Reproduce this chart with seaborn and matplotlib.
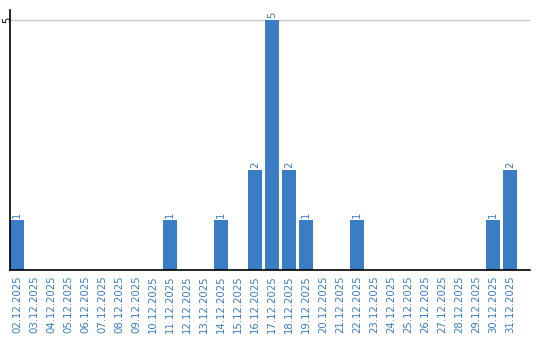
import matplotlib
matplotlib.use("Agg")
import matplotlib.pyplot as plt
import seaborn as sns
import pandas as pd

dates = ["02.12.2025", "03.12.2025", "04.12.2025", "05.12.2025", "06.12.2025",
         "07.12.2025", "08.12.2025", "09.12.2025", "10.12.2025", "11.12.2025",
         "12.12.2025", "13.12.2025", "14.12.2025", "15.12.2025", "16.12.2025",
         "17.12.2025", "18.12.2025", "19.12.2025", "20.12.2025", "21.12.2025",
         "22.12.2025", "23.12.2025", "24.12.2025", "25.12.2025", "26.12.2025",
         "27.12.2025", "28.12.2025", "29.12.2025", "30.12.2025", "31.12.2025"]
counts = [1, 0, 0, 0, 0, 0, 0, 0, 0, 1,
          0, 0, 1, 0, 2, 5, 2, 1, 0, 0,
          1, 0, 0, 0, 0, 0, 0, 0, 1, 2]

df = pd.DataFrame({"date": dates, "count": counts})

sns.set_style("white")
plt.rcParams['font.family'] = ['DejaVu Sans']

blue = "#3b7dc4"
fig = plt.figure(figsize=(5.4, 3.4), dpi=100)
ax = fig.add_axes([10/540, 70/340, 520/540, 260/340])
sns.barplot(data=df, x="date", y="count", color=blue, width=0.82,
            saturation=1, ax=ax, zorder=3, linewidth=0, edgecolor="none")

ax.set_xlim(-0.41, 30.16)
ax.set_ylim(0, 5.2)
ax.set_yticks([5])
ax.set_yticklabels(["5"], rotation=90, va="center", fontsize=7, color="black")
ax.tick_params(axis="y", length=0, pad=-1.5)
ax.tick_params(axis="x", length=0, pad=4)
ax.set_xticks(range(len(dates)))
ax.set_xticklabels(dates, rotation=90, fontsize=7.3, color=blue)
ax.axhline(5, color="#c8c8c8", lw=1, zorder=1)
ax.set_xlabel("")
ax.set_ylabel("")
for s in ["top", "right"]:
    ax.spines[s].set_visible(False)
for s in ["left", "bottom"]:
    ax.spines[s].set_color("black")
    ax.spines[s].set_linewidth(1.2)
    ax.spines[s].set_zorder(5)

for i, v in enumerate(counts):
    if v > 0:
        ax.annotate(str(v), (i, v), xytext=(0, 1.5), textcoords="offset points",
                    ha="center", va="bottom", rotation=90, fontsize=7.3, color=blue)

fig.savefig("out.png", dpi=100)
